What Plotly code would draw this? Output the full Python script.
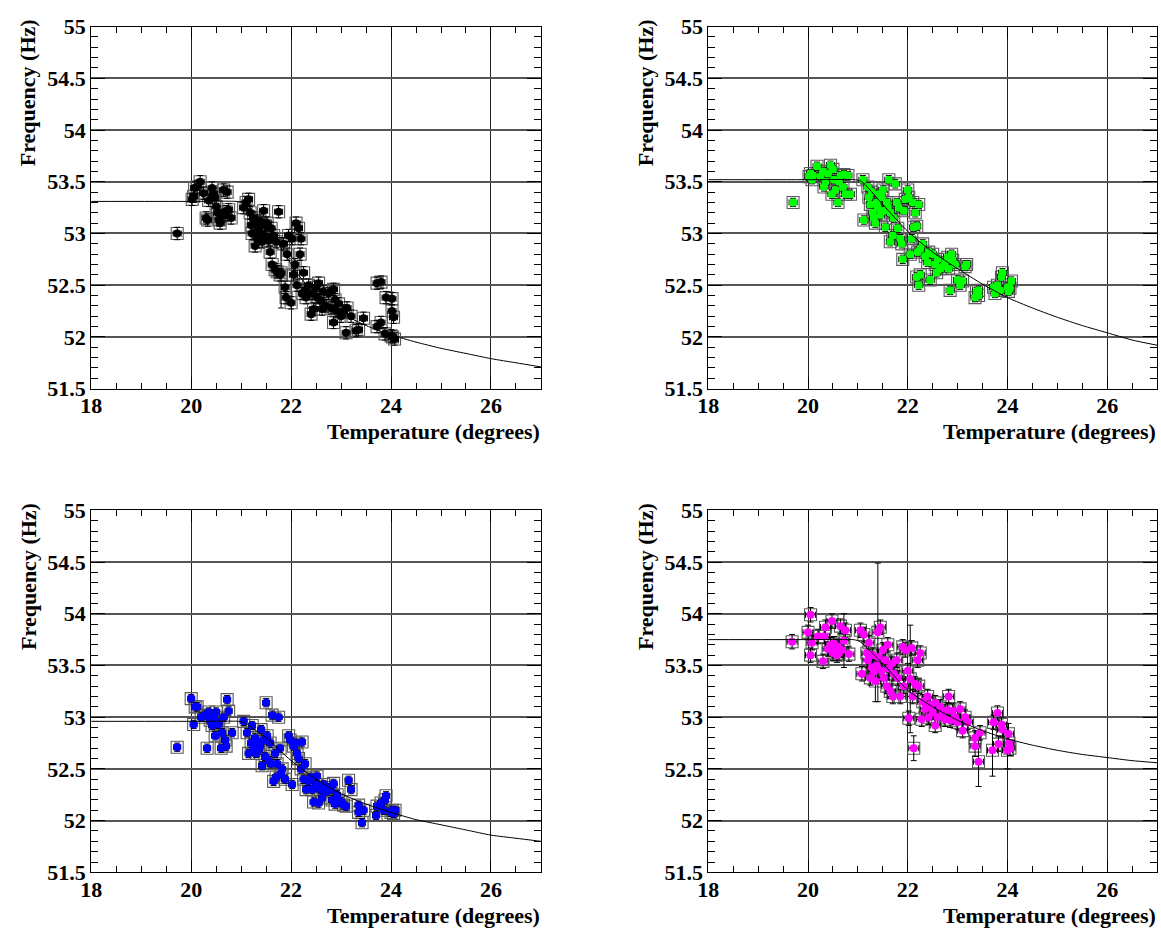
import plotly.graph_objects as go

W, H = 1161, 935

# ---------------- data ----------------
# Panel A (black)
temp_a = [19.72, 20.02, 20.05, 20.07, 20.12, 20.18, 20.25, 20.30, 20.33, 20.35,
          20.42, 20.45, 20.47, 20.50, 20.53, 20.56, 20.58, 20.62, 20.65, 20.68,
          20.70, 20.72, 20.75, 20.80, 21.05, 21.10, 21.15, 21.18, 21.20, 21.22,
          21.25, 21.28, 21.30, 21.32, 21.35, 21.38, 21.40, 21.42, 21.45, 21.48,
          21.50, 21.52, 21.55, 21.58, 21.60, 21.62, 21.65, 21.68, 21.70, 21.72,
          21.75, 21.78, 21.85, 21.88, 21.90, 21.92, 21.95, 22.00, 22.02, 22.05,
          22.08, 22.10, 22.12, 22.15, 22.18, 22.20, 22.22, 22.25, 22.28, 22.30,
          22.35, 22.40, 22.42, 22.45, 22.50, 22.52, 22.55, 22.60, 22.62, 22.65,
          22.70, 22.75, 22.80, 22.85, 22.85, 22.88, 22.90, 22.95, 23.00, 23.05,
          23.10, 23.12, 23.20, 23.30, 23.35, 23.45, 23.72, 23.80, 23.72, 23.80,
          23.88, 23.90, 24.02, 24.02, 24.05, 24.03, 24.07, 24.00]
freq_a = [53.00, 53.33, 53.36, 53.44, 53.45, 53.50, 53.39, 53.15, 53.13, 53.32,
          53.44, 53.38, 53.35, 53.26, 53.20, 53.13, 53.10, 53.17, 53.42, 53.18,
          53.21, 53.40, 53.23, 53.15, 53.25, 53.30, 53.33, 53.20, 53.08, 53.00,
          53.15, 52.88, 53.10, 52.95, 53.05, 53.12, 53.00, 52.92, 53.22, 53.08,
          52.97, 53.10, 52.93, 52.82, 53.05, 52.70, 52.98, 52.65, 52.92, 52.63,
          53.21, 52.60, 52.90, 52.48, 52.38, 52.80, 52.98, 52.33, 52.95, 52.60,
          52.70, 53.10, 52.50, 53.05, 52.80, 52.95, 52.42, 52.62, 52.45, 52.38,
          52.50, 52.22, 52.42, 52.27, 52.48, 52.38, 52.52, 52.35, 52.27, 52.44,
          52.30, 52.42, 52.28, 52.46, 52.14, 52.36, 52.25, 52.32, 52.20, 52.25,
          52.04, 52.28, 52.20, 52.06, 52.07, 52.18, 52.52, 52.53, 52.10, 52.14,
          52.03, 52.38, 52.37, 52.25, 52.19, 52.00, 51.98, 52.01]
temp_a_wide = [21.80]
freq_a_wide = [52.62]
ferr_a_wide = [0.34]
terr_a, ferr_a = 0.08, 0.06
fit_t_a = [18.0, 20.0, 20.9, 21.0, 21.2, 21.5, 21.8, 22.1, 22.5, 23.0, 23.5,
           24.0, 24.5, 25.0, 25.5, 26.0, 26.5, 27.0]
fit_f_a = [53.31, 53.31, 53.31, 53.30, 53.24, 53.08, 52.86, 52.63, 52.40, 52.23, 52.11,
           52.02, 51.95, 51.89, 51.84, 51.79, 51.75, 51.71]

# Panel B (green)
temp_b = [19.70, 20.02, 20.05, 20.08, 20.10, 20.18, 20.25, 20.30, 20.32, 20.35,
          20.40, 20.45, 20.48, 20.50, 20.52, 20.55, 20.60, 20.62, 20.65, 20.70,
          20.72, 20.75, 20.85, 20.80, 21.10, 21.12, 21.20, 21.22, 21.25, 21.28,
          21.30, 21.32, 21.35, 21.38, 21.40, 21.42, 21.45, 21.48, 21.50, 21.52,
          21.55, 21.58, 21.60, 21.62, 21.65, 21.65, 21.70, 21.72, 21.75, 21.78,
          21.80, 21.82, 21.85, 21.88, 21.90, 21.92, 21.95, 22.00, 22.02, 22.05,
          22.08, 22.10, 22.12, 22.15, 22.18, 22.20, 22.22, 22.25, 22.18, 22.22,
          22.25, 22.30, 22.35, 22.40, 22.42, 22.45, 22.50, 22.55, 22.58, 22.60,
          22.65, 22.70, 22.75, 22.80, 22.82, 22.85, 22.88, 22.90, 22.95, 23.00,
          23.05, 23.10, 23.15, 23.18, 23.35, 23.38, 23.42, 23.42, 23.72, 23.75,
          23.80, 23.85, 23.88, 23.90, 24.00, 24.02, 24.05, 24.08]
freq_b = [53.30, 53.55, 53.58, 53.52, 53.56, 53.65, 53.55, 53.60, 53.45, 53.50,
          53.58, 53.66, 53.38, 53.62, 53.52, 53.42, 53.30, 53.50, 53.56, 53.45,
          53.57, 53.38, 53.38, 53.56, 53.52, 53.13, 53.45, 53.35, 53.28, 53.40,
          53.20, 53.15, 53.10, 53.30, 53.25, 53.38, 53.18, 53.35, 53.42, 53.22,
          53.06, 53.30, 53.25, 53.52, 53.20, 52.92, 52.98, 53.15, 53.48, 53.30,
          53.05, 53.25, 52.95, 52.90, 52.75, 53.22, 53.33, 53.42, 53.35, 52.80,
          52.95, 53.30, 53.06, 53.20, 53.07, 52.82, 53.28, 52.85, 52.58, 52.50,
          52.60, 52.90, 52.78, 52.72, 52.82, 52.55, 52.80, 52.70, 52.62, 52.75,
          52.66, 52.68, 52.72, 52.77, 52.66, 52.45, 52.80, 52.74, 52.70, 52.55,
          52.50, 52.54, 52.68, 52.70, 52.38, 52.44, 52.45, 52.40, 52.48, 52.42,
          52.50, 52.45, 52.58, 52.62, 52.48, 52.44, 52.47, 52.54]
temp_b_wide = []
freq_b_wide = []
ferr_b_wide = []
terr_b, ferr_b = 0.08, 0.04
fit_t_b = [18.0, 20.0, 20.95, 21.05, 21.15, 21.5, 22.0, 22.5, 23.0, 23.5,
           24.0, 24.5, 25.0, 25.5, 26.0, 26.5, 27.0]
fit_f_b = [53.52, 53.52, 53.52, 53.51, 53.47, 53.28, 53.02, 52.82, 52.66, 52.51,
           52.38, 52.28, 52.19, 52.11, 52.04, 51.97, 51.92]

# Panel C (blue)
temp_c = [19.72, 20.00, 20.05, 20.08, 20.12, 20.20, 20.28, 20.32, 20.35, 20.38,
          20.42, 20.45, 20.48, 20.50, 20.52, 20.55, 20.60, 20.62, 20.65, 20.68,
          20.70, 20.72, 20.75, 20.82, 21.05, 21.12, 21.15, 21.20, 21.22, 21.25,
          21.28, 21.30, 21.32, 21.35, 21.38, 21.40, 21.42, 21.45, 21.48, 21.50,
          21.52, 21.55, 21.58, 21.60, 21.62, 21.65, 21.68, 21.70, 21.72, 21.75,
          21.78, 21.80, 21.82, 21.88, 21.95, 21.98, 22.02, 22.05, 22.10, 22.12,
          22.15, 22.20, 22.22, 22.25, 22.28, 22.30, 22.35, 22.40, 22.42, 22.45,
          22.50, 22.52, 22.55, 22.58, 22.62, 22.65, 22.70, 22.75, 22.80, 22.82,
          22.85, 22.88, 22.92, 22.95, 23.00, 23.05, 23.10, 23.15, 23.20, 23.35,
          23.35, 23.42, 23.45, 23.70, 23.72, 23.80, 23.85, 23.88, 23.90, 24.00,
          24.03, 24.05, 24.08]
freq_c = [52.71, 53.18, 52.93, 53.10, 53.10, 53.00, 53.02, 52.70, 53.05, 52.97,
          52.92, 53.00, 52.82, 53.05, 52.95, 52.93, 52.70, 52.85, 53.00, 52.78,
          52.72, 53.17, 53.06, 52.85, 52.96, 52.85, 52.65, 52.75, 52.92, 52.70,
          52.80, 52.65, 52.75, 52.68, 52.72, 52.88, 52.53, 52.78, 52.62, 53.14,
          52.82, 52.58, 52.75, 52.55, 53.02, 52.38, 52.65, 52.42, 52.55, 53.00,
          52.70, 52.45, 52.50, 52.40, 52.82, 52.78, 52.35, 52.72, 52.75, 52.65,
          52.60, 52.50, 52.76, 52.40, 52.55, 52.30, 52.38, 52.42, 52.30, 52.18,
          52.35, 52.43, 52.17, 52.30, 52.22, 52.35, 52.28, 52.32, 52.30, 52.20,
          52.36, 52.16, 52.25, 52.20, 52.18, 52.15, 52.14, 52.39, 52.30, 52.15,
          52.08, 51.98, 52.10, 52.05, 52.14, 52.17, 52.10, 52.20, 52.24, 52.08,
          52.10, 52.07, 52.10]
temp_c_wide = []
freq_c_wide = []
ferr_c_wide = []
terr_c, ferr_c = 0.07, 0.04
fit_t_c = [18.0, 20.0, 20.95, 21.05, 21.15, 21.5, 22.0, 22.5, 23.0, 23.5,
           24.0, 24.5, 25.0, 25.5, 26.0, 26.5, 27.0]
fit_f_c = [52.96, 52.96, 52.96, 52.95, 52.92, 52.80, 52.58, 52.40, 52.26, 52.16,
           52.08, 52.01, 51.96, 51.91, 51.86, 51.83, 51.80]

# Panel D (magenta)
temp_d = [19.68, 20.00, 20.05, 20.05, 20.08, 20.20, 20.30, 20.33, 20.35, 20.40,
          20.45, 20.48, 20.50, 20.52, 20.55, 20.58, 20.60, 20.62, 20.65, 20.68,
          20.75, 20.82, 21.05, 21.08, 21.12, 21.18, 21.20, 21.22, 21.25, 21.28,
          21.30, 21.32, 21.38, 21.42, 21.45, 21.48, 21.50, 21.52, 21.55, 21.58,
          21.60, 21.62, 21.65, 21.68, 21.70, 21.72, 21.78, 21.80, 21.85, 21.90,
          21.92, 21.95, 22.00, 22.02, 22.08, 22.10, 22.15, 22.20, 22.22, 22.25,
          22.28, 22.30, 22.35, 22.40, 22.42, 22.45, 22.50, 22.55, 22.55, 22.60,
          22.65, 22.70, 22.75, 22.80, 22.82, 22.85, 22.90, 22.95, 23.00, 23.05,
          23.10, 23.15, 23.20, 23.35, 23.45, 23.72, 23.80, 23.82, 23.88, 23.90,
          24.03, 24.05]
freq_d = [53.73, 53.82, 53.99, 53.60, 53.72, 53.78, 53.54, 53.78, 53.87, 53.66,
          53.70, 53.93, 53.62, 53.71, 53.65, 53.60, 53.68, 53.62, 53.88, 53.65,
          53.84, 53.61, 53.84, 53.42, 53.80, 53.62, 53.55, 53.72, 53.38, 53.48,
          53.60, 53.44, 53.50, 53.58, 53.87, 53.45, 53.65, 53.38, 53.55, 53.30,
          53.70, 53.47, 53.25, 53.52, 53.20, 53.42, 53.55, 53.38, 53.20, 53.68,
          53.30, 53.65, 53.45, 52.99, 53.67, 53.20, 53.32, 53.55, 53.30, 53.62,
          52.98, 53.15, 53.08, 53.20, 53.00, 53.12, 53.05, 52.92, 53.14, 53.00,
          53.10, 53.05, 52.98, 53.07, 53.20, 52.97, 53.06, 53.00, 52.95, 53.08,
          52.87, 53.00, 52.95, 52.80, 52.85, 52.95, 53.04, 52.74, 52.93, 52.88,
          52.75, 52.70]
temp_d_wide = [20.72, 21.35, 21.40, 22.05, 22.12, 23.35, 23.42, 23.70, 24.00, 24.02]
freq_d_wide = [53.74, 53.35, 53.82, 53.37, 52.70, 52.72, 52.57, 52.68, 52.68, 52.84]
ferr_d_wide = [0.26, 0.20, 0.67, 0.52, 0.12, 0.10, 0.24, 0.25, 0.18, 0.10]
terr_d, ferr_d = 0.10, 0.07
fit_t_d = [18.0, 20.0, 20.9, 21.0, 21.1, 21.2, 21.5, 22.0, 22.5, 23.0, 23.5,
           24.0, 24.5, 25.0, 25.5, 26.0, 26.5, 27.0]
fit_f_d = [53.75, 53.75, 53.75, 53.74, 53.71, 53.66, 53.52, 53.26, 53.10, 52.97, 52.87,
           52.79, 52.73, 52.68, 52.64, 52.61, 52.58, 52.56]

x_range = [18, 27]
y_range = [51.5, 55]
x_title = "Temperature (degrees)"
y_title = "Frequency (Hz)"

# ---------------- layout helpers ----------------
def px_x(p):
    return p / W


def px_y(p):
    return 1 - p / H


FONT = dict(family="Liberation Serif", size=22, color="black", weight="bold")

# pixel boxes of the four frames: (left, right, top, bottom)
frames = [
    (81, 535, 15, 387),
    (704, 1157, 15, 387),
    (81, 535, 512, 884),
    (704, 1157, 512, 884),
]

panels = [
    (temp_a, freq_a, terr_a, ferr_a, temp_a_wide, freq_a_wide, ferr_a_wide,
     fit_t_a, fit_f_a, "#000000"),
    (temp_b, freq_b, terr_b, ferr_b, temp_b_wide, freq_b_wide, ferr_b_wide,
     fit_t_b, fit_f_b, "#00ff00"),
    (temp_c, freq_c, terr_c, ferr_c, temp_c_wide, freq_c_wide, ferr_c_wide,
     fit_t_c, fit_f_c, "#0000ff"),
    (temp_d, freq_d, terr_d, ferr_d, temp_d_wide, freq_d_wide, ferr_d_wide,
     fit_t_d, fit_f_d, "#ff00ff"),
]

fig = go.Figure()
annotations = []
layout_axes = {}

for i, (frame, pan) in enumerate(zip(frames, panels)):
    n = i + 1
    xa = "x" if n == 1 else f"x{n}"
    ya = "y" if n == 1 else f"y{n}"
    T, F, te, fe, Tw, Fw, Few, ft, ff, col = pan
    all_T = list(T) + list(Tw)
    all_F = list(F) + list(Fw)
    all_Fe = [fe] * len(T) + list(Few)

    # error boxes
    fig.add_trace(go.Scatter(
        x=all_T, y=all_F, mode="markers", xaxis=xa, yaxis=ya,
        marker=dict(symbol="square-open", size=12, color="#5a5a5a",
                    line=dict(width=1.1, color="#5a5a5a")),
        hoverinfo="skip"))
    # points with error bars
    fig.add_trace(go.Scatter(
        x=all_T, y=all_F, mode="markers", xaxis=xa, yaxis=ya,
        marker=dict(symbol="circle", size=8, color=col, line=dict(width=0)),
        error_x=dict(type="constant", value=te, color="black", thickness=1, width=3),
        error_y=dict(type="data", array=all_Fe, color="black", thickness=1, width=3)))
    # fit curve
    fig.add_trace(go.Scatter(
        x=ft, y=ff, mode="lines", xaxis=xa, yaxis=ya,
        line=dict(color="black", width=1, shape="spline", smoothing=0.6),
        hoverinfo="skip"))

    l, r, t, b = frame
    common = dict(showline=True, linecolor="black", linewidth=1, mirror="allticks",
                  ticks="inside", tickcolor="black", tickfont=FONT,
                  showgrid=True, zeroline=False, fixedrange=True)
    layout_axes["xaxis" if n == 1 else f"xaxis{n}"] = dict(
        domain=[px_x(l), px_x(r)], anchor=ya, range=x_range,
        tick0=18, dtick=2, ticklen=12, gridcolor="#222222", gridwidth=1,
        ticklabelstandoff=-3,
        minor=dict(dtick=0.5, ticks="inside", ticklen=6, tickcolor="black",
                   showgrid=False),
        **common)
    layout_axes["yaxis" if n == 1 else f"yaxis{n}"] = dict(
        domain=[px_y(b), px_y(t)], anchor=xa, range=y_range,
        tick0=51.5, dtick=0.5, ticklen=14, gridcolor="#555555", gridwidth=1.5,
        minor=dict(dtick=0.1, ticks="inside", ticklen=7, tickcolor="black",
                   showgrid=False),
        **common)

    annotations.append(dict(
        text=x_title, xref="paper", yref="paper", x=px_x(r + 1), y=px_y(b + 44),
        xanchor="right", yanchor="middle", showarrow=False, font=FONT))
    annotations.append(dict(
        text=y_title, xref="paper", yref="paper", x=px_x(l - 64),
        y=px_y(t - 10), xanchor="center", yanchor="top", textangle=-90,
        showarrow=False, font=FONT))

fig.update_layout(
    width=W, height=H, margin=dict(l=0, r=0, t=0, b=0),
    paper_bgcolor="white", plot_bgcolor="white", showlegend=False,
    annotations=annotations, **layout_axes)

fig.write_html("out.html")
